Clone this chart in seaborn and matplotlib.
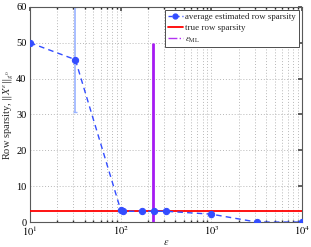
import numpy as np
import pandas as pd
import matplotlib
matplotlib.use("Agg")
import matplotlib.pyplot as plt
import seaborn as sns
from matplotlib.lines import Line2D
from matplotlib.ticker import LogLocator, FixedLocator, NullFormatter

# data
eps = [10, 31.62, 100, 105, 171, 233, 316, 1000, 3162, 10000]
sparsity = [50, 45.3, 3.4, 3.0, 3.0, 3.0, 3.0, 2.2, 0.0, 0.0]
err_low = [0, 14.6, 0.4, 0, 0, 0, 0, 0.7, 0, 0]
err_high = [0, 14.7, 0.2, 0, 0, 0, 0, 0.6, 0, 0]
true_sparsity = 3
eps_ml = 230
eps_ml_top = 50

sns.set_theme(style="white")
plt.rcParams['font.family'] = ['Liberation Serif', 'DejaVu Serif']
plt.rcParams['mathtext.fontset'] = 'stix'

fig = plt.figure(figsize=(3.11, 2.47), dpi=100)
ax = fig.add_axes([0.0965, 0.101, 0.8745, 0.871])

df = pd.DataFrame({"eps": eps, "sparsity": sparsity})

blue = (0.2, 0.3, 1.0)
ax.errorbar(eps, sparsity, yerr=[err_low, err_high], fmt='none',
            ecolor=(0.6, 0.7, 1.0), elinewidth=1.2, capsize=1.5, zorder=2)
sns.lineplot(data=df, x="eps", y="sparsity", ax=ax, color=blue,
             linestyle=(0, (4, 3)), linewidth=1.0, marker='o', markersize=4.5,
             markeredgecolor=blue, markerfacecolor=blue, zorder=4)
ax.axhline(true_sparsity, color='red', linewidth=1.3, zorder=3)
ax.vlines(eps_ml, 0, eps_ml_top, color=(0.65, 0.1, 0.95), linewidth=2.0, zorder=3)

ax.set_xscale('log')
ax.set_xlim(10, 10000)
ax.set_ylim(0, 60)
ax.set_yticks(range(0, 61, 10))
ax.xaxis.set_major_locator(FixedLocator([10, 100, 1000, 10000]))
ax.xaxis.set_minor_locator(LogLocator(base=10, subs=np.arange(2, 10), numticks=20))
ax.xaxis.set_minor_formatter(NullFormatter())
ax.set_xticklabels([r'$10^1$', r'$10^2$', r'$10^3$', r'$10^4$'])

ax.grid(True, which='major', color='0.72', linestyle=(0, (1, 2)), linewidth=0.7)
ax.grid(True, which='minor', axis='x', color='0.72', linestyle=(0, (1, 2)), linewidth=0.7)
ax.tick_params(direction='in', length=3, labelsize=7.5, top=True, right=True,
               pad=1.5, colors='0.3', labelcolor='black')
ax.tick_params(axis='y', pad=2.5)
ax.tick_params(which='minor', direction='in', length=1.5, top=True, bottom=True)
for s in ax.spines.values():
    s.set_color('0.35')
    s.set_linewidth(0.8)

ax.set_xlabel(r'$\varepsilon$', fontsize=7.5, labelpad=0)
ax.set_ylabel(r'Row sparsity, $\|X^{\varepsilon}\|_{g^0}$', fontsize=7.5, labelpad=0.5)

handles = [
    Line2D([], [], color=blue, linestyle=(0, (3, 2)), marker='o', markersize=3.5, linewidth=1.0),
    Line2D([], [], color='red', linewidth=1.3),
    Line2D([], [], color=(0.7, 0.2, 0.95), linestyle='-.', linewidth=1.0),
]
labels = ['average estimated row sparsity', 'true row sparsity', r'$\varepsilon_{\mathrm{ML}}$']
leg = ax.legend(handles, labels, loc='upper right', fontsize=6.4, frameon=True,
                fancybox=False, framealpha=1, edgecolor='0.3', handlelength=1.7,
                handletextpad=0.3, borderpad=0.3, labelspacing=0.35,
                borderaxespad=0.35)
leg.get_frame().set_linewidth(0.7)

fig.savefig('out.png', dpi=100)
